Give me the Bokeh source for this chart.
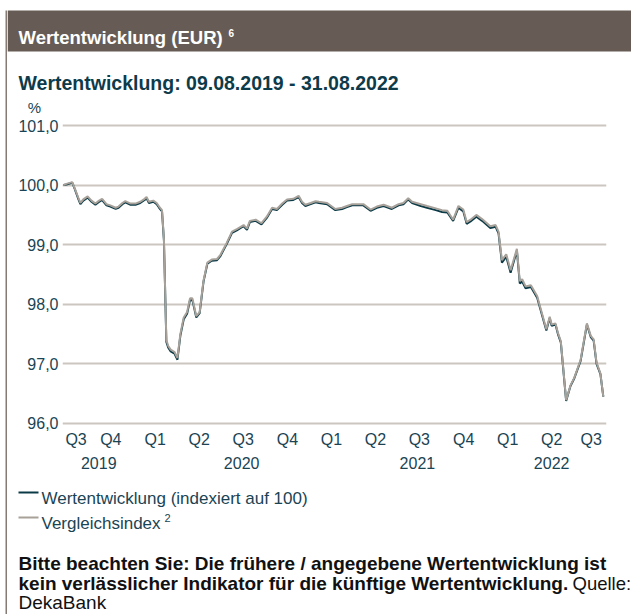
import pandas as pd
from bokeh.plotting import figure
from bokeh.models import Range1d, FixedTicker, LinearAxis, ColumnDataSource
from bokeh.layouts import row, column
from bokeh.core.properties import value
from bokeh.embed import file_html
from bokeh.resources import INLINE

# ---------------- data ----------------
start_date = "2019-08-09"
dates = [
    "2019-08-09", "2019-08-15", "2019-08-27", "2019-09-01", "2019-09-09", "2019-09-13",
    "2019-09-19", "2019-09-28", "2019-10-06", "2019-10-14", "2019-10-20", "2019-10-28",
    "2019-11-06", "2019-11-14", "2019-11-25", "2019-12-01", "2019-12-09", "2019-12-15",
    "2019-12-26", "2020-01-05", "2020-01-15", "2020-01-24", "2020-01-28", "2020-02-02",
    "2020-02-11", "2020-02-18", "2020-02-23", "2020-02-29", "2020-03-04", "2020-03-09",
    "2020-03-13", "2020-03-18", "2020-03-26", "2020-04-01", "2020-04-07", "2020-04-14",
    "2020-04-21", "2020-04-27", "2020-05-02", "2020-05-10", "2020-05-17", "2020-05-25",
    "2020-06-02", "2020-06-11", "2020-06-22", "2020-06-29", "2020-07-12", "2020-07-23",
    "2020-08-02", "2020-08-10", "2020-08-16", "2020-08-23", "2020-08-29", "2020-09-10",
    "2020-09-22", "2020-10-03", "2020-10-14", "2020-10-24", "2020-11-04", "2020-11-14",
    "2020-11-27", "2020-12-08", "2020-12-15", "2020-12-22", "2021-01-02", "2021-01-12",
    "2021-01-19", "2021-02-05", "2021-02-22", "2021-03-08", "2021-03-18", "2021-03-29",
    "2021-04-21", "2021-05-06", "2021-05-19", "2021-06-02", "2021-06-19", "2021-07-03",
    "2021-07-13", "2021-07-23", "2021-07-31", "2021-08-18", "2021-08-31", "2021-09-18",
    "2021-10-01", "2021-10-12", "2021-10-24", "2021-11-04", "2021-11-14", "2021-11-21",
    "2021-11-29", "2021-12-11", "2021-12-23", "2022-01-09", "2022-01-20", "2022-01-26",
    "2022-02-02", "2022-02-11", "2022-02-20", "2022-03-05", "2022-03-11", "2022-03-16",
    "2022-03-23", "2022-04-03", "2022-04-16", "2022-05-05", "2022-05-12", "2022-05-16",
    "2022-05-24", "2022-05-29", "2022-06-04", "2022-06-15", "2022-06-24", "2022-07-02",
    "2022-07-15", "2022-07-28", "2022-08-05", "2022-08-11", "2022-08-17", "2022-08-25",
    "2022-08-31",
]
vergleichsindex = [
    100.00, 100.02, 100.05, 99.95, 99.78, 99.70, 99.76, 99.81, 99.74, 99.69, 99.73, 99.77,
    99.68, 99.66, 99.62, 99.64, 99.70, 99.73, 99.69, 99.69, 99.72, 99.77, 99.80, 99.72,
    99.74, 99.70, 99.64, 99.58, 99.10, 97.40, 97.30, 97.24, 97.20, 97.10, 97.50, 97.78,
    97.87, 98.10, 98.10, 97.80, 97.87, 98.40, 98.70, 98.75, 98.76, 98.83, 99.03, 99.22,
    99.26, 99.30, 99.33, 99.27, 99.40, 99.42, 99.36, 99.47, 99.62, 99.60, 99.69, 99.76,
    99.77, 99.82, 99.72, 99.67, 99.70, 99.73, 99.72, 99.70, 99.60, 99.62, 99.65, 99.68,
    99.68, 99.59, 99.64, 99.67, 99.62, 99.68, 99.70, 99.78, 99.72, 99.68, 99.65, 99.61,
    99.58, 99.57, 99.42, 99.65, 99.59, 99.38, 99.42, 99.50, 99.43, 99.31, 99.33, 99.22,
    98.74, 98.84, 98.57, 98.93, 98.39, 98.42, 98.30, 98.32, 98.14, 97.58, 97.79, 97.66,
    97.68, 97.52, 97.38, 96.39, 96.64, 96.77, 97.07, 97.68, 97.47, 97.41, 97.02, 96.84,
    96.45,
]
wertentwicklung = [
    100.00, 100.01, 100.04, 99.94, 99.76, 99.68, 99.74, 99.79, 99.72, 99.67, 99.71, 99.75,
    99.66, 99.64, 99.60, 99.62, 99.68, 99.71, 99.67, 99.67, 99.70, 99.75, 99.78, 99.70,
    99.72, 99.68, 99.62, 99.56, 99.07, 97.37, 97.27, 97.21, 97.17, 97.07, 97.47, 97.75,
    97.84, 98.07, 98.07, 97.78, 97.85, 98.38, 98.68, 98.73, 98.74, 98.81, 99.01, 99.20,
    99.24, 99.28, 99.31, 99.25, 99.38, 99.40, 99.34, 99.45, 99.60, 99.58, 99.67, 99.74,
    99.75, 99.80, 99.70, 99.65, 99.68, 99.71, 99.70, 99.68, 99.58, 99.60, 99.63, 99.66,
    99.66, 99.57, 99.62, 99.65, 99.60, 99.66, 99.68, 99.76, 99.70, 99.65, 99.62, 99.58,
    99.55, 99.54, 99.40, 99.62, 99.56, 99.35, 99.39, 99.47, 99.40, 99.28, 99.30, 99.19,
    98.70, 98.80, 98.53, 98.90, 98.35, 98.38, 98.27, 98.29, 98.11, 97.56, 97.77, 97.64,
    97.66, 97.50, 97.36, 96.38, 96.63, 96.76, 97.05, 97.66, 97.45, 97.39, 97.00, 96.83,
    96.45,
]
y_ticks = [96, 97, 98, 99, 100, 101]
y_tick_labels = ["96,0", "97,0", "98,0", "99,0", "100,0", "101,0"]
quarter_tick_dates = [
    "2019-09-04", "2019-11-15", "2020-02-15", "2020-05-16", "2020-08-15", "2020-11-15",
    "2021-02-14", "2021-05-16", "2021-08-15", "2021-11-15", "2022-02-14", "2022-05-16",
    "2022-08-06",
]
quarter_labels = ["Q3", "Q4", "Q1", "Q2", "Q3", "Q4", "Q1", "Q2", "Q3", "Q4", "Q1", "Q2", "Q3"]
year_tick_dates = ["2019-10-21", "2020-08-12", "2021-08-11", "2022-05-16"]
year_labels = ["2019", "2020", "2021", "2022"]

# ---------------- styles ----------------
FONT = value("Liberation Sans")
BAR = "#675c55"
STRIP = "#857a74"
TEAL = "#0e3b4a"
AXIS_TXT = "#1a4454"
GRID = "#cbc6bf"
DARK = "#0b3a47"
GREY = "#a7a19a"

t0 = pd.Timestamp(start_date)


def to_days(ds):
    return [int((pd.Timestamp(d) - t0).days) for d in ds]


days = to_days(dates)
q_days = to_days(quarter_tick_dates)
yr_days = to_days(year_tick_dates)

W = 624


def blank(w, h):
    f = figure(width=w, height=h, x_range=Range1d(0, w), y_range=Range1d(h, 0),
               x_axis_type=None, y_axis_type=None, toolbar_location=None,
               output_backend="svg", min_border=0, outline_line_color=None,
               frame_align=False)
    f.grid.visible = False
    return f


# ---------------- left frame strip ----------------
strip = blank(7, 614)
strip.quad(left=5, right=7, top=10, bottom=614, fill_color=STRIP, line_color=None)

# ---------------- top: header + title ----------------
top = blank(W, 117)
top.quad(left=0, right=W, top=10, bottom=51, fill_color=BAR, line_color=None)
top.text(x=[11], y=[37], text=["Wertentwicklung (EUR)"], text_font=FONT,
         text_font_style="bold", text_font_size="18.5px", text_color="white",
         text_baseline="alphabetic")
top.text(x=[221], y=[32], text=["6"], text_font=FONT, text_font_style="bold",
         text_font_size="10px", text_color="white", text_baseline="alphabetic")
top.text(x=[11], y=[82], text=["Wertentwicklung: 09.08.2019 - 31.08.2022"], text_font=FONT,
         text_font_style="bold", text_font_size="19.5px", text_color=TEAL,
         text_baseline="alphabetic")
top.text(x=[27], y=[107], text=["%"], text_font=FONT, text_font_size="15px",
         text_color=AXIS_TXT, text_align="center", text_baseline="alphabetic")

# ---------------- chart ----------------
chart = figure(width=W, height=358,
               x_range=Range1d(-2.07, 1124.6), y_range=Range1d(95.9664, 101.0336),
               x_axis_type=None, toolbar_location=None, output_backend="svg",
               min_border_left=55, min_border_right=25, min_border_top=6,
               min_border_bottom=50, outline_line_color=None, frame_align=False)
ya = chart.yaxis[0]
ya.ticker = FixedTicker(ticks=y_ticks)
ya.major_label_overrides = dict(zip(y_ticks, y_tick_labels))
ya.axis_line_color = None
ya.major_tick_in = 0
ya.major_tick_out = 0
ya.minor_tick_in = 0
ya.minor_tick_out = 0
ya.major_label_standoff = 4
ya.major_label_text_font = "Liberation Sans"
ya.major_label_text_font_size = "16px"
ya.major_label_text_color = AXIS_TXT
chart.ygrid.ticker = FixedTicker(ticks=y_ticks)
chart.ygrid.grid_line_color = GRID
chart.ygrid.grid_line_width = 2


def bottom_axis(ticks, labels, standoff):
    return LinearAxis(ticker=FixedTicker(ticks=ticks),
                      major_label_overrides=dict(zip(ticks, labels)),
                      axis_line_color=None, major_tick_in=0, major_tick_out=0,
                      minor_tick_in=0, minor_tick_out=0, major_label_standoff=standoff,
                      major_label_text_font="Liberation Sans",
                      major_label_text_font_size="16px",
                      major_label_text_color=AXIS_TXT)


chart.add_layout(bottom_axis(q_days, quarter_labels, 5), "below")
chart.add_layout(bottom_axis(yr_days, year_labels, 6), "below")

src = ColumnDataSource(dict(d=days, fund=wertentwicklung, idx=vergleichsindex))
chart.line("d", "fund", source=src, line_color=DARK, line_width=2)
chart.line("d", "idx", source=src, line_color=GREY, line_width=2)

# ---------------- bottom: legend + note ----------------
bot = blank(W, 139)
bot.segment(x0=[11, 11], y0=[17, 42], x1=[31, 31], y1=[17, 42],
            line_color=[DARK, GREY], line_width=2)
bot.text(x=[34, 34], y=[23, 48],
         text=["Wertentwicklung (indexiert auf 100)", "Vergleichsindex"],
         text_font=FONT, text_font_size="17px", text_color=AXIS_TXT,
         text_baseline="alphabetic")
bot.text(x=[157], y=[42], text=["2"], text_font=FONT, text_font_size="11px",
         text_color=AXIS_TXT, text_baseline="alphabetic")
bot.text(x=[11, 11, 11], y=[88, 108, 127],
         text=["Bitte beachten Sie: Die frühere / angegebene Wertentwicklung ist",
               "kein verlässlicher Indikator für die künftige Wertentwicklung.",
               "DekaBank"],
         text_font=FONT, text_font_style=["bold", "bold", "normal"],
         text_font_size="19px", text_color="#111111", text_baseline="alphabetic")
bot.text(x=[565], y=[108], text=["Quelle:"], text_font=FONT, text_font_size="18.5px",
         text_color="#111111", text_baseline="alphabetic")

layout = row(strip, column(top, chart, bot))

open("out.html", "w").write(file_html(layout, INLINE))
